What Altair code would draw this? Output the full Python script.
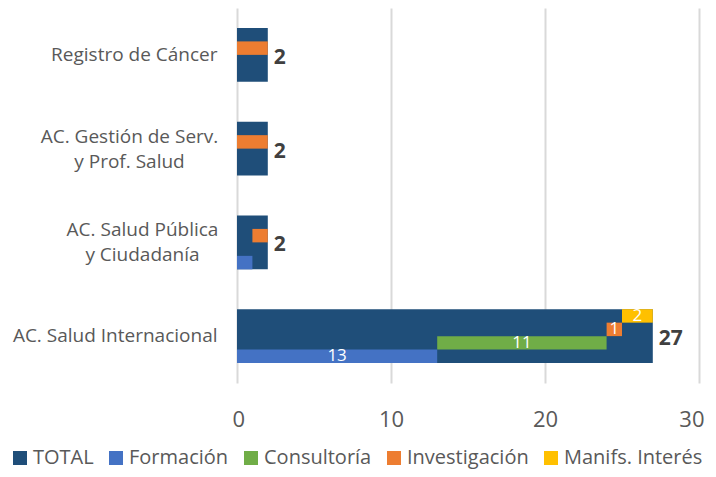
import altair as alt
import pandas as pd

categories = [
    "Registro de Cáncer",
    "AC. Gestión de Serv.\ny Prof. Salud",
    "AC. Salud Pública\ny Ciudadanía",
    "AC. Salud Internacional",
]
series = ["Formación", "Consultoría", "Investigación", "Manifs. Interés"]
formacion = [0, 0, 1, 13]
consultoria = [0, 0, 0, 11]
investigacion = [2, 2, 1, 1]
manifs = [0, 0, 0, 2]
totals = [2, 2, 2, 27]
show_segment_labels = [False, False, False, True]
legend_order = ["TOTAL"] + series
colors = ["#1F4E79", "#4472C4", "#70AD47", "#ED7D31", "#FFC000"]
x_ticks = [0, 10, 20, 30]

FONT = "Open Sans"
GRAY = "#595959"

tot_df = pd.DataFrame({"cat": categories, "serie": "TOTAL", "total": totals})

rows = []
for i, c in enumerate(categories):
    vals = [formacion[i], consultoria[i], investigacion[i], manifs[i]]
    start = 0
    for s, v in zip(series, vals):
        if v > 0:
            rows.append({"cat": c, "serie": s, "value": v, "start": start,
                         "end": start + v, "mid": start + v / 2,
                         "show": show_segment_labels[i]})
        start += v
seg_df = pd.DataFrame(rows)

multi = "indexof(datum.value, '\\n') >= 0"
y_enc = alt.Y("cat:N", sort=categories, title=None,
              scale=alt.Scale(domain=categories, paddingInner=0.425, paddingOuter=0.2125),
              axis=alt.Axis(labelExpr="split(datum.label, '\\n')", labelFont=FONT,
                            labelFontSize=19, labelColor=GRAY,
                            labelAlign={"condition": {"test": multi, "value": "center"},
                                        "value": "right"},
                            labelPadding={"condition": [
                                {"test": "indexof(datum.value, 'Gestión') >= 0", "value": 108},
                                {"test": "indexof(datum.value, 'Pública') >= 0", "value": 95},
                            ], "value": 20},
                            labelOffset={"condition": {"test": multi, "value": -12},
                                         "value": 0},
                            labelLineHeight=25, domain=False, ticks=False, grid=False,
                            labelLimit=300))
x_scale = alt.Scale(domain=[0, 30], nice=False)
x_axis = alt.Axis(values=x_ticks, labelFont=FONT, labelFontSize=22, labelColor=GRAY,
                  labelPadding=26, labelFlush=True, labelFlushOffset=5,
                  domain=False, ticks=False, grid=True,
                  gridColor="#d9d9d9", gridWidth=2, title=None)
color_enc = alt.Color("serie:N",
                      scale=alt.Scale(domain=legend_order, range=colors),
                      legend=alt.Legend(title=None, orient="none", direction="horizontal",
                                        legendX=-227, legendY=440,
                                        symbolType="square", symbolSize=196,
                                        symbolStrokeWidth=0, labelFont=FONT,
                                        labelFontSize=20, labelColor=GRAY,
                                        columnPadding=12, symbolOffset=0,
                                        labelOffset=3, labelLimit=300))
yoff = alt.YOffset("serie:N", sort=list(reversed(series)),
                   scale=alt.Scale(domain=list(reversed(series)), paddingInner=0, paddingOuter=0))

total_bars = alt.Chart(tot_df).mark_bar().encode(
    y=y_enc,
    x=alt.X("total:Q", scale=x_scale, axis=x_axis),
    color=color_enc,
)
seg_bars = alt.Chart(seg_df).mark_bar().encode(
    y=alt.Y("cat:N", sort=categories),
    yOffset=yoff,
    x=alt.X("start:Q"),
    x2="end:Q",
    color=alt.Color("serie:N"),
)
seg_text = alt.Chart(seg_df).transform_filter("datum.show").mark_text(
    font=FONT, fontSize=17, color="white", baseline="middle", align="center"
).encode(
    y=alt.Y("cat:N", sort=categories),
    yOffset=yoff,
    x=alt.X("mid:Q"),
    text="value:Q",
)
tot_text = alt.Chart(tot_df).mark_text(
    font=FONT, fontSize=21, fontWeight="bold", color="#404040",
    align="left", baseline="middle", dx=6, dy=3
).encode(
    y=alt.Y("cat:N", sort=categories),
    x=alt.X("total:Q"),
    text="total:Q",
)

chart = alt.layer(total_bars, seg_bars, seg_text, tot_text).properties(
    width=462, height=375,
    autosize=alt.AutoSizeParams(type="none"),
    padding={"left": 229, "top": 0, "right": 9, "bottom": 86},
).configure_view(stroke=None)

chart.save("out.html", embed_options={"renderer": "svg", "actions": False})
